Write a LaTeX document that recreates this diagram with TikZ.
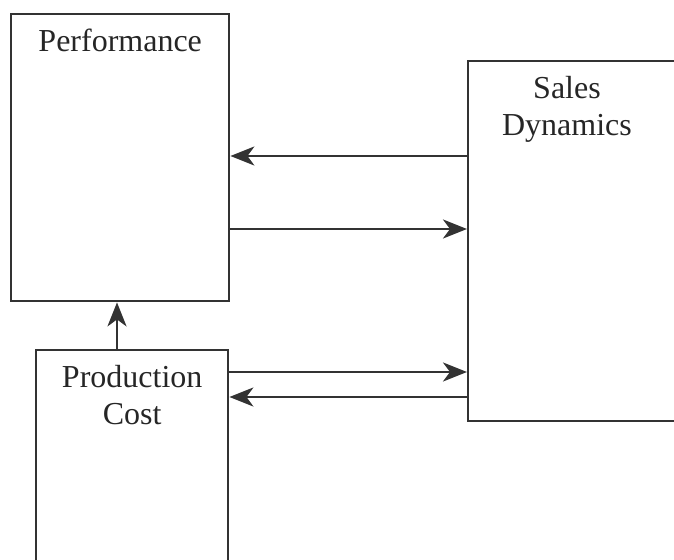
\documentclass[tikz,border=0pt]{standalone}
\usepackage{fontspec}
\setmainfont{Liberation Serif}
\usepackage{tikz}
\usetikzlibrary{arrows.meta,positioning}

\begin{document}
\begin{tikzpicture}[x=1pt, y=-1pt,
        box/.style = {draw=black!80, line width=2.4pt, anchor=north west, inner sep=0pt},
        txt/.style = {font = {\fontsize{32}{37}\selectfont}, black!85, align=center, inner sep=0pt, anchor=north},
        arr/.style = {draw=black!80, line width=2.4pt, -{Stealth[length=24pt, width=19pt, inset=7pt]}}]
        \useasboundingbox (0,0) rectangle (674,559);
        \clip (0,0) rectangle (674,559);

        \node[box, minimum width=218pt, minimum height=287pt] (perf) at (10,13) {};
        \node[box, minimum width=240pt, minimum height=360pt] (sales) at (467,60) {};
        \node[box, minimum width=192pt, minimum height=240pt] (prod) at (35,349) {};

        \node[txt, below=16pt of perf.north] (perftxt) {Performance};
        \node[txt, below=16pt of sales.north west, xshift=100pt] (salestxt) {Sales\\Dynamics};
        \node[txt, below=16pt of prod.north] (prodtxt) {Production\\Cost};

        % links between the boxes
        \draw[arr] (sales.west |- 0,156) -- (perf.east |- 0,156);
        \draw[arr] (perf.east |- 0,229) -- (sales.west |- 0,229);
        \draw[arr] (prod.east |- 0,372) -- (sales.west |- 0,372);
        \draw[arr] (sales.west |- 0,397) -- (prod.east |- 0,397);
        \draw[arr] (prod.north -| 117,0) -- (perf.south -| 117,0);
    \end{tikzpicture}
\end{document}
